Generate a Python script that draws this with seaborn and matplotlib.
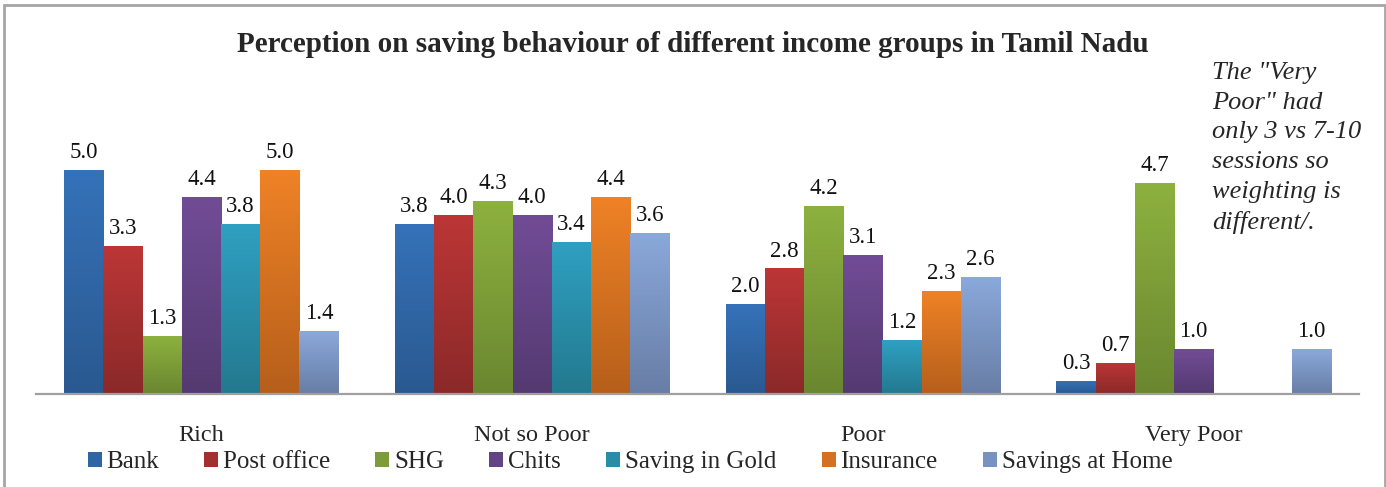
import numpy as np
import pandas as pd
import matplotlib
matplotlib.use("Agg")
import matplotlib.pyplot as plt
import seaborn as sns
from matplotlib.colors import LinearSegmentedColormap
from matplotlib.patches import Rectangle

# Chart data
groups = ['Rich', 'Not so Poor', 'Poor', 'Very Poor']
instruments = ['Bank', 'Post office', 'SHG', 'Chits', 'Saving in Gold',
               'Insurance', 'Savings at Home']

bank = [5.0, 3.8, 2.0, 0.3]
post_office = [3.3, 4.0, 2.8, 0.7]
shg = [1.3, 4.3, 4.2, 4.7]
chits = [4.4, 4.0, 3.1, 1.0]
saving_in_gold = [3.8, 3.4, 1.2, np.nan]
insurance = [5.0, 4.4, 2.3, np.nan]
savings_at_home = [1.4, 3.6, 2.6, 1.0]

title = 'Perception on saving behaviour of different income groups in Tamil Nadu'
note = 'The "Very\nPoor" had\nonly 3 vs 7-10\nsessions so\nweighting is\ndifferent/.'

# Excel-like gradient fills (top -> bottom)
top_colors = ['#3572B9', '#BC3636', '#8DB13F', '#714C96', '#2FA0C1', '#EF8226', '#8AA8DA']
bottom_colors = ['#2A5990', '#8B2929', '#6A8730', '#543A71', '#23798F', '#B65F1B', '#687EA6']
mid_colors = ['#2F65A4', '#A42F2F', '#7B9C38', '#624384', '#298DA8', '#D37021', '#7993C0']

series = [bank, post_office, shg, chits, saving_in_gold, insurance, savings_at_home]
df = pd.DataFrame({
    'group': np.repeat([groups], len(instruments), axis=0).ravel(),
    'instrument': np.repeat(instruments, len(groups)),
    'score': np.concatenate(series),
})

sns.set_style('white')
plt.rcParams['font.family'] = ['Liberation Serif', 'DejaVu Serif']

fig = plt.figure(figsize=(13.86, 4.87), dpi=100)
ax = fig.add_axes([36 / 1386, 93 / 487, 1323 / 1386, 269 / 487])

sns.barplot(data=df, x='group', y='score', hue='instrument', order=groups,
            hue_order=instruments, palette=mid_colors, saturation=1,
            width=0.83, linewidth=0, ax=ax)

handles, labels = ax.get_legend_handles_labels()
ax.get_legend().remove()

# Replace flat fills with vertical gradients
for container, top, bottom in zip(ax.containers, top_colors, bottom_colors):
    cmap = LinearSegmentedColormap.from_list('grad', [bottom, top])
    for bar in container:
        h = bar.get_height()
        if not np.isfinite(h) or h == 0:
            continue
        x0, w = bar.get_x(), bar.get_width()
        grad = np.linspace(1, 0, 64).reshape(-1, 1)
        im = ax.imshow(grad, cmap=cmap, vmin=0, vmax=1, origin='upper',
                       extent=[x0, x0 + w, 0, h], aspect='auto', zorder=2)
        im.set_clip_path(bar)
        bar.set_facecolor('none')
    ax.bar_label(container, fmt='%.1f', padding=5, fontsize=16.5, color='#111111')

ax.set_xlim(-0.5, 3.5)
ax.set_ylim(0, 6)
ax.set_xlabel('')
ax.set_ylabel('')
ax.set_yticks([])
ax.tick_params(axis='x', length=0, pad=22, labelsize=17.5)
for side in ['top', 'left', 'right']:
    ax.spines[side].set_visible(False)
ax.spines['bottom'].set_color('#A0A0A0')
ax.spines['bottom'].set_linewidth(1.6)

fig.text(0.5, 1 - 45 / 487, title, ha='center', va='center',
         fontsize=21, fontweight='bold')
fig.text(1212 / 1386, 1 - 62 / 487, note, ha='left', va='top',
         fontsize=19, style='italic', linespacing=1.45)

fig.legend(handles, labels, loc='center', bbox_to_anchor=(630 / 1386, 1 - 462 / 487),
           ncol=7, frameon=False, fontsize=18, handlelength=0.56,
           handleheight=0.56, handletextpad=0.2, columnspacing=1.8)

# Outer chart border
fig.patches.append(Rectangle((4 / 1386, -0.05), 1381 / 1386, 1 - 5 / 487 + 0.05,
                             transform=fig.transFigure, fill=False,
                             edgecolor='#A6A6A6', linewidth=2))

fig.savefig('out.png', dpi=100)
